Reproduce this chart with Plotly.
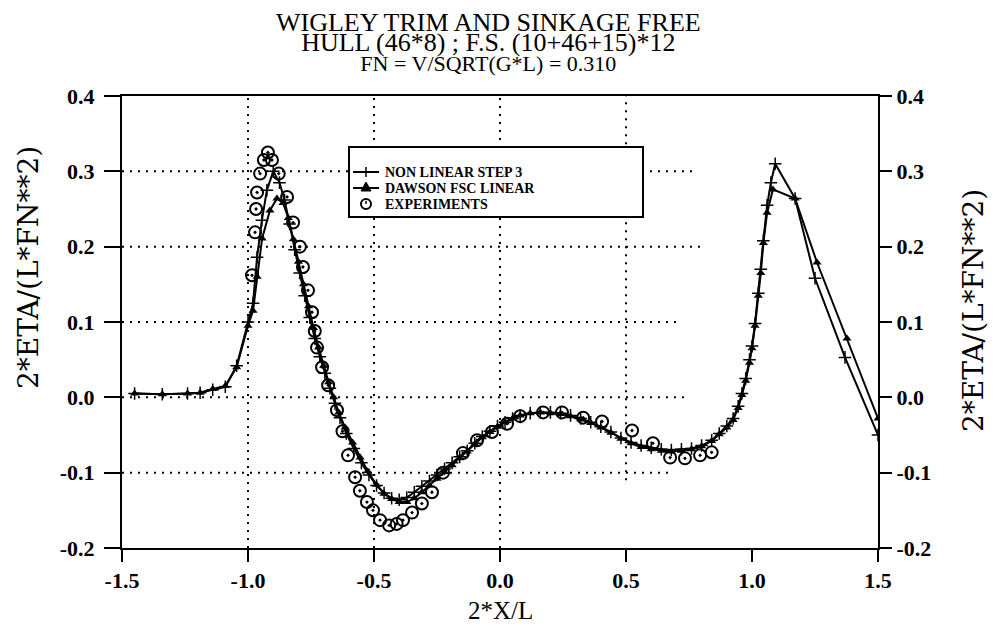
import plotly.graph_objects as go

# ---------------- data ----------------
nl_x = [-1.45, -1.34, -1.24, -1.19, -1.14, -1.09, -1.045, -1.00, -0.98, -0.964, -0.945, -0.925,
        -0.90, -0.875, -0.855, -0.835, -0.815, -0.795, -0.775, -0.755, -0.735, -0.715, -0.695,
        -0.675, -0.655, -0.635, -0.61, -0.58, -0.55, -0.52, -0.49, -0.46, -0.43, -0.40, -0.37,
        -0.34, -0.31, -0.28, -0.25, -0.22, -0.19, -0.16, -0.13, -0.10, -0.07, -0.04, -0.01,
        0.02, 0.05, 0.08, 0.12, 0.16, 0.20, 0.24, 0.28, 0.32, 0.36, 0.40, 0.44, 0.48, 0.52,
        0.56, 0.60, 0.64, 0.68, 0.72, 0.76, 0.80, 0.84, 0.87, 0.90, 0.925, 0.945, 0.96, 0.975,
        0.99, 1.00, 1.012, 1.025, 1.035, 1.045, 1.06, 1.075, 1.092, 1.171, 1.25, 1.369, 1.50]
nl_y = [0.005, 0.004, 0.005, 0.006, 0.010, 0.014, 0.042, 0.100, 0.125, 0.186, 0.235, 0.275,
        0.300, 0.285, 0.262, 0.230, 0.196, 0.165, 0.135, 0.106, 0.078, 0.054, 0.032,
        0.012, -0.008, -0.027, -0.048, -0.068, -0.087, -0.103, -0.117, -0.127, -0.134, -0.136, -0.133,
        -0.126, -0.118, -0.111, -0.103, -0.095, -0.087, -0.079, -0.071, -0.061, -0.052, -0.045, -0.038,
        -0.033, -0.028, -0.024, -0.021, -0.020, -0.020, -0.021, -0.024, -0.028, -0.033, -0.039, -0.046, -0.054, -0.060,
        -0.064, -0.067, -0.069, -0.070, -0.069, -0.068, -0.064, -0.057, -0.048, -0.038, -0.028, -0.012, 0.005, 0.025,
        0.050, 0.068, 0.098, 0.138, 0.170, 0.208, 0.255, 0.285, 0.310, 0.264, 0.158, 0.053, -0.050]

dw_x = [-1.45, -1.34, -1.24, -1.19, -1.14, -1.09, -1.045, -1.00, -0.98, -0.964, -0.944, -0.913,
        -0.885, -0.861, -0.84, -0.82, -0.80, -0.78, -0.76, -0.74, -0.72, -0.70, -0.68, -0.66,
        -0.64, -0.615, -0.585, -0.555, -0.525, -0.49, -0.46, -0.43, -0.40, -0.37, -0.34, -0.31,
        -0.28, -0.25, -0.22, -0.19, -0.16, -0.13, -0.10, -0.07, -0.04, -0.01, 0.02, 0.05, 0.08,
        0.12, 0.16, 0.20, 0.24, 0.28, 0.32, 0.36, 0.40, 0.44, 0.48, 0.52, 0.56, 0.60, 0.64,
        0.68, 0.72, 0.76, 0.80, 0.84, 0.87, 0.90, 0.925, 0.945, 0.96, 0.975, 0.99, 1.00, 1.012,
        1.025, 1.035, 1.045, 1.06, 1.083, 1.171, 1.258, 1.377, 1.50]
dw_y = [0.005, 0.004, 0.005, 0.006, 0.011, 0.015, 0.040, 0.095, 0.115, 0.160, 0.211, 0.248,
        0.264, 0.258, 0.238, 0.210, 0.180, 0.150, 0.121, 0.092, 0.066, 0.042, 0.020, 0.000,
        -0.020, -0.040, -0.060, -0.080, -0.098, -0.116, -0.128, -0.135, -0.139, -0.139, -0.134, -0.126,
        -0.117, -0.108, -0.099, -0.090, -0.081, -0.072, -0.062, -0.053, -0.046, -0.039, -0.033, -0.028, -0.024,
        -0.021, -0.020, -0.021, -0.022, -0.025, -0.029, -0.034, -0.040, -0.047, -0.055, -0.061, -0.066, -0.069, -0.071,
        -0.072, -0.071, -0.069, -0.065, -0.058, -0.049, -0.040, -0.030, -0.014, 0.003, 0.022, 0.046, 0.065, 0.095,
        0.135, 0.165, 0.205, 0.245, 0.276, 0.264, 0.179, 0.078, -0.028]

ex_x = [-0.984, -0.972, -0.968, -0.964, -0.952, -0.937, -0.921, -0.905, -0.878, -0.845, -0.821,
        -0.794, -0.782, -0.762, -0.746, -0.735, -0.726, -0.706, -0.682, -0.647, -0.625, -0.603,
        -0.575, -0.556, -0.528, -0.504, -0.476, -0.44, -0.41, -0.385, -0.349, -0.31, -0.27,
        -0.226, -0.147, -0.091, -0.032, 0.028, 0.08, 0.171, 0.246, 0.33, 0.405, 0.524,
        0.607, 0.675, 0.734, 0.794, 0.84]
ex_y = [0.162, 0.219, 0.250, 0.272, 0.297, 0.315, 0.325, 0.315, 0.297, 0.266, 0.232,
        0.200, 0.173, 0.142, 0.113, 0.088, 0.066, 0.040, 0.016, -0.017, -0.045, -0.077,
        -0.106, -0.124, -0.139, -0.150, -0.163, -0.170, -0.168, -0.163, -0.153, -0.141, -0.126,
        -0.100, -0.074, -0.057, -0.046, -0.035, -0.025, -0.020, -0.020, -0.027, -0.032, -0.044,
        -0.061, -0.080, -0.081, -0.077, -0.073]

series_names = ["NON LINEAR STEP 3", "DAWSON FSC LINEAR", "EXPERIMENTS"]
title_lines = ["WIGLEY TRIM AND SINKAGE FREE", "HULL (46*8) ; F.S. (10+46+15)*12",
               "FN = V/SQRT(G*L) = 0.310"]

x_ticks = [-1.5, -1.0, -0.5, 0.0, 0.5, 1.0, 1.5]
x_ticktext = ["-1.5", "-1.0", "-0.5", "0.0", "0.5", "1.0", "1.5"]
y_ticks = [-0.2, -0.1, 0.0, 0.1, 0.2, 0.3, 0.4]
y_ticktext = ["-0.2", "-0.1", "0.0", "0.1", "0.2", "0.3", "0.4"]

# gridlines: (value, start, end)
vgrid = [(-1.0, -0.2, 0.4), (-0.5, -0.2, 0.4), (0.0, -0.2, 0.4), (0.5, -0.11, 0.4)]
hgrid = [(0.3, -1.5, 0.78), (0.2, -1.5, 0.80), (0.1, -1.5, 0.72), (0.0, -1.5, 0.73), (-0.1, -1.5, 0.69)]

SERIF = "Liberation Serif"
# plot area in page pixels (figure is offset by the 8px page margin)
PX0, PX1, PY0, PY1 = 122, 878, 96, 548


def px(xp):
    return (xp - PX0) / (PX1 - PX0)


def py(yp):
    return (PY1 - yp) / (PY1 - PY0)


fig = go.Figure()
fig.add_trace(go.Scatter(x=nl_x, y=nl_y, mode="lines+markers", name=series_names[0],
                         line=dict(color="black", width=2), showlegend=False,
                         marker=dict(symbol="cross-thin-open", size=9, color="black",
                                     line=dict(width=1.5, color="black"))))
fig.add_trace(go.Scatter(x=dw_x, y=dw_y, mode="lines+markers", name=series_names[1],
                         line=dict(color="black", width=2), showlegend=False,
                         marker=dict(symbol="triangle-up", size=8, color="black")))
fig.add_trace(go.Scatter(x=ex_x, y=ex_y, mode="markers", name=series_names[2], showlegend=False,
                         marker=dict(symbol="circle-open-dot", size=12, color="black",
                                     line=dict(width=2, color="black"))))
fig.add_trace(go.Scatter(x=[None], y=[None], yaxis="y2", showlegend=False, hoverinfo="skip"))

shapes = []
for v, a, b in vgrid:
    shapes.append(dict(type="line", xref="x", yref="y", x0=v, x1=v, y0=a, y1=b, layer="below",
                       line=dict(color="black", width=2, dash="2px,6px")))
for v, a, b in hgrid:
    shapes.append(dict(type="line", xref="x", yref="y", x0=a, x1=b, y0=v, y1=v, layer="below",
                       line=dict(color="black", width=2, dash="2px,6px")))

# ---- hand-drawn legend box (paper coords) ----
LB = dict(x0=349, x1=643, y0=147, y1=217)
shapes.append(dict(type="rect", xref="paper", yref="paper", x0=px(LB["x0"]), x1=px(LB["x1"]),
                   y0=py(LB["y1"]), y1=py(LB["y0"]), layer="above", fillcolor="white",
                   line=dict(color="black", width=2)))
rows = [172, 188, 204]
sx0, sx1, sxc = 353, 379, 366
# row 1: line with + marker
shapes.append(dict(type="line", xref="paper", yref="paper", x0=px(sx0), x1=px(sx1),
                   y0=py(rows[0]), y1=py(rows[0]), layer="above", line=dict(color="black", width=2)))
shapes.append(dict(type="line", xref="paper", yref="paper", x0=px(sxc), x1=px(sxc),
                   y0=py(rows[0] - 5), y1=py(rows[0] + 5), layer="above",
                   line=dict(color="black", width=1.5)))
# row 2: line with filled triangle
shapes.append(dict(type="line", xref="paper", yref="paper", x0=px(sx0), x1=px(sx1),
                   y0=py(rows[1]), y1=py(rows[1]), layer="above", line=dict(color="black", width=2)))
tri = "M {a},{b} L {c},{d} L {e},{f} Z".format(
    a=px(sxc - 5), b=py(rows[1] + 3), c=px(sxc + 5), d=py(rows[1] + 3), e=px(sxc), f=py(rows[1] - 6))
shapes.append(dict(type="path", xref="paper", yref="paper", path=tri, layer="above",
                   fillcolor="black", line=dict(color="black", width=1)))
# row 3: open circle with tick
shapes.append(dict(type="circle", xref="paper", yref="paper", x0=px(sxc - 5), x1=px(sxc + 5),
                   y0=py(rows[2] + 5), y1=py(rows[2] - 5), layer="above",
                   line=dict(color="black", width=2)))
shapes.append(dict(type="line", xref="paper", yref="paper", x0=px(sxc), x1=px(sxc),
                   y0=py(rows[2] - 3), y1=py(rows[2]), layer="above",
                   line=dict(color="black", width=1.5)))

legend_text = "<br>".join("<span style='font-size:14px'>%s</span>" % n for n in series_names)
title_text = ("<span style='font-size:26px'>%s</span><br>"
              "<span style='font-size:26px'>%s</span><br>"
              "<span style='font-size:22px'>%s</span>") % tuple(title_lines)

axis_common = dict(showline=True, linecolor="black", linewidth=2, ticks="outside",
                   tickcolor="black", tickwidth=2, showgrid=False, zeroline=False,
                   tickfont=dict(family=SERIF, size=22, color="black", weight="bold"))

fig.update_layout(
    width=984, height=618,
    margin=dict(l=114, r=114, t=88, b=78),
    paper_bgcolor="white", plot_bgcolor="white",
    showlegend=False,
    xaxis=dict(range=[-1.5, 1.5], tickvals=x_ticks, ticktext=x_ticktext, ticklen=12,
               mirror=True, **axis_common),
    yaxis=dict(range=[-0.2, 0.4], tickvals=y_ticks, ticktext=y_ticktext, ticklen=16,
               ticklabelstandoff=5, **axis_common),
    yaxis2=dict(range=[-0.2, 0.4], tickvals=y_ticks, ticktext=y_ticktext, ticklen=12,
                overlaying="y", side="right", **axis_common),
    shapes=shapes,
    annotations=[
        dict(text=title_text, xref="paper", yref="paper", x=px(488), y=py(42),
             xanchor="center", yanchor="middle", showarrow=False, align="center",
             font=dict(family=SERIF, size=15.3, color="black")),
        dict(text=legend_text, xref="paper", yref="paper", x=px(383), y=py(188),
             xanchor="left", yanchor="middle", showarrow=False, align="left",
             font=dict(family=SERIF, size=12.3, color="black", weight="bold")),
        dict(text="2*X/L", xref="paper", yref="paper", x=0.5, y=py(610), xanchor="center",
             yanchor="middle", showarrow=False,
             font=dict(family=SERIF, size=25, color="black")),
        dict(text="2*ETA/(L*FN**2)", xref="paper", yref="paper", x=px(28),
             xanchor="center", yanchor="middle", y=py(268), showarrow=False, textangle=-90,
             font=dict(family="DejaVu Serif", size=28, color="black")),
        dict(text="2*ETA/(L*FN**2)", xref="paper", yref="paper", x=px(973),
             xanchor="center", yanchor="middle", y=py(310), showarrow=False, textangle=-90,
             font=dict(family="DejaVu Serif", size=28, color="black")),
    ],
)

fig.write_html("out.html")
